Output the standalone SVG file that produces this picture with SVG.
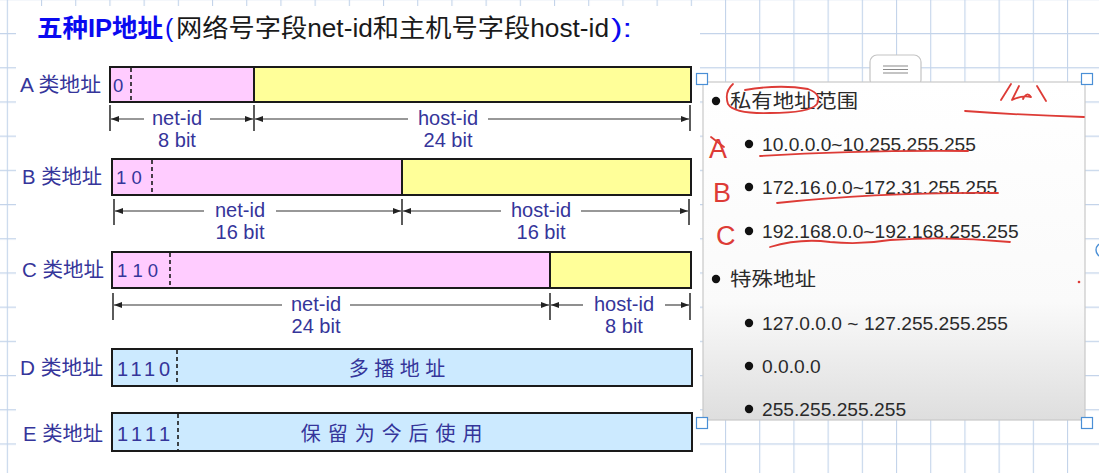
<svg xmlns="http://www.w3.org/2000/svg" width="1099" height="473" viewBox="0 0 1099 473">
<defs>
<pattern id="grid" x="6.8" y="-1.2" width="34.2" height="34.2" patternUnits="userSpaceOnUse">
<path d="M0,0.5 H34.2 M0.5,0 V34.2" stroke="#c3d4ea" stroke-width="1.2" fill="none"/>
</pattern>
<linearGradient id="pg" x1="0" y1="0" x2="0" y2="1">
<stop offset="0" stop-color="#ffffff"/>
<stop offset="0.65" stop-color="#fafafa"/>
<stop offset="1" stop-color="#dedede"/>
</linearGradient>
<marker id="ah" viewBox="0 0 8 6" refX="8" refY="3" markerWidth="8" markerHeight="6" markerUnits="userSpaceOnUse" orient="auto">
<path d="M0,0 L8,3 L0,6 z" fill="#222"/>
</marker>
<style>
.lbl{font-family:"Liberation Sans","Noto Sans CJK SC",sans-serif;font-size:20px;fill:#35359a}
.bits{font-family:"Liberation Sans","Noto Sans CJK SC",sans-serif;font-size:18.5px;fill:#35359a}
.big{font-family:"Liberation Sans","Noto Sans CJK SC",sans-serif;font-size:20px;fill:#35359a}
.dim{font-family:"Liberation Sans","Noto Sans CJK SC",sans-serif;font-size:20px;fill:#35359a;text-anchor:middle}
.box{stroke:#1a1a1a;stroke-width:2;fill:none}
.pink{fill:#ffccff}
.yel{fill:#ffff99}
.blu{fill:#cceaff}
.dash{stroke:#1a1a1a;stroke-width:1.6;stroke-dasharray:4,3}
.tick{stroke:#333;stroke-width:1.6}
.arr{stroke:#333;stroke-width:1.1;fill:none;marker-end:url(#ah)}
.pt{font-family:"Liberation Sans","Noto Sans CJK SC",sans-serif;font-size:19.2px;fill:#2a2a2a}
.red{stroke:#dd3b36;stroke-width:1.8;fill:none;stroke-linecap:round;stroke-linejoin:round}
.redt{font-family:"Liberation Sans",sans-serif;font-size:27px;fill:#dd3b36;font-weight:normal}
.hdl{fill:#ffffff;stroke:#4a8fd6;stroke-width:1.2}
</style>
</defs>
<rect x="0" y="0" width="1099" height="473" fill="#ffffff"/>
<rect x="0" y="0" width="1099" height="473" fill="url(#grid)"/>
<rect x="16" y="6" width="684" height="467" fill="#ffffff"/>

<g id="title">
<text x="37" y="37" font-family="'Liberation Sans','Noto Sans CJK SC',sans-serif" font-size="25" font-weight="bold" fill="#0a0af0" textLength="126" lengthAdjust="spacingAndGlyphs">五种IP地址</text>
<text x="165" y="37" font-family="'Liberation Sans','Noto Sans CJK SC',sans-serif" font-size="25" fill="#0a0af0">(</text>
<text x="176" y="37" font-family="'Liberation Sans','Noto Sans CJK SC',sans-serif" font-size="25" fill="#1a1a1a" textLength="433" lengthAdjust="spacingAndGlyphs">网络号字段net-id和主机号字段host-id</text>
<text x="611" y="37" font-family="'Liberation Sans','Noto Sans CJK SC',sans-serif" font-size="25" fill="#0a0af0" textLength="21" lengthAdjust="spacingAndGlyphs">):</text>
</g>

<g id="rowA">
<text class="lbl" x="20" y="92" textLength="81" lengthAdjust="spacingAndGlyphs">A 类地址</text>
<rect class="pink" x="110" y="67" width="144" height="35"/>
<rect class="yel" x="254" y="67" width="437" height="35"/>
<rect class="box" x="110" y="67" width="581" height="35"/>
<line class="box" x1="254" y1="67" x2="254" y2="102"/>
<line class="dash" x1="131" y1="68" x2="131" y2="101"/>
<text class="bits" x="113" y="92">0</text>
</g>

<g id="rowB">
<text class="lbl" x="22" y="184" textLength="80" lengthAdjust="spacingAndGlyphs">B 类地址</text>
<rect class="pink" x="112" y="159" width="290" height="36"/>
<rect class="yel" x="402" y="159" width="289" height="36"/>
<rect class="box" x="112" y="159" width="579" height="36"/>
<line class="box" x1="402" y1="159" x2="402" y2="195"/>
<line class="dash" x1="152" y1="160" x2="152" y2="194"/>
<text class="bits" x="116" y="184">1 0</text>
</g>

<g id="rowC">
<text class="lbl" x="22" y="277" textLength="82" lengthAdjust="spacingAndGlyphs">C 类地址</text>
<rect class="pink" x="112" y="252" width="438" height="36"/>
<rect class="yel" x="550" y="252" width="141" height="36"/>
<rect class="box" x="112" y="252" width="579" height="36"/>
<line class="box" x1="550" y1="252" x2="550" y2="288"/>
<line class="dash" x1="170" y1="253" x2="170" y2="287"/>
<text class="bits" x="117" y="277">1 1 0</text>
</g>

<g id="rowD">
<text class="lbl" x="20" y="375" textLength="83" lengthAdjust="spacingAndGlyphs">D 类地址</text>
<rect class="blu" x="112" y="349" width="580" height="37"/>
<rect class="box" x="112" y="349" width="580" height="37"/>
<line class="dash" x1="177" y1="350" x2="177" y2="385"/>
<text class="big" x="117" y="375.5" textLength="53" lengthAdjust="spacing">1110</text>
<text class="big" x="397" y="376" text-anchor="middle">多 播 地 址</text>
</g>

<g id="rowE">
<text class="lbl" x="23" y="441" textLength="80" lengthAdjust="spacingAndGlyphs">E 类地址</text>
<rect class="blu" x="112" y="413" width="580" height="38"/>
<rect class="box" x="112" y="413" width="580" height="38"/>
<line class="dash" x1="178" y1="414" x2="178" y2="450"/>
<text class="big" x="117" y="440.5" textLength="53" lengthAdjust="spacing">1111</text>
<text class="big" x="392" y="441" text-anchor="middle" letter-spacing="0.7">保 留 为 今 后 使 用</text>
</g>

<g id="connectors">
<line class="tick" x1="110" y1="105" x2="110" y2="131"/>
<line class="tick" x1="254" y1="105" x2="254" y2="131"/>
<line class="tick" x1="690" y1="105" x2="690" y2="131"/>
<path class="arr" d="M144,119 L111,119"/>
<path class="arr" d="M210,119 L253,119"/>
<path class="arr" d="M408,119 L255,119"/>
<path class="arr" d="M488,119 L689,119"/>
<text class="dim" x="177" y="124.5">net-id</text>
<text class="dim" x="177" y="146.5">8 bit</text>
<text class="dim" x="448" y="124.5">host-id</text>
<text class="dim" x="448" y="146.5">24 bit</text>

<line class="tick" x1="114" y1="199" x2="114" y2="225"/>
<line class="tick" x1="402" y1="199" x2="402" y2="225"/>
<line class="tick" x1="689" y1="199" x2="689" y2="225"/>
<path class="arr" d="M204,211 L115,211"/>
<path class="arr" d="M276,211 L401,211"/>
<path class="arr" d="M501,211 L403,211"/>
<path class="arr" d="M581,211 L688,211"/>
<text class="dim" x="240" y="216.5">net-id</text>
<text class="dim" x="240" y="238.5">16 bit</text>
<text class="dim" x="541" y="216.5">host-id</text>
<text class="dim" x="541" y="238.5">16 bit</text>

<line class="tick" x1="113" y1="293" x2="113" y2="320"/>
<line class="tick" x1="550" y1="293" x2="550" y2="320"/>
<line class="tick" x1="690" y1="293" x2="690" y2="320"/>
<path class="arr" d="M282,305 L114,305"/>
<path class="arr" d="M350,305 L549,305"/>
<path class="arr" d="M583,305 L551,305"/>
<path class="arr" d="M665,305 L689,305"/>
<text class="dim" x="316" y="310.5">net-id</text>
<text class="dim" x="316" y="332.5">24 bit</text>
<text class="dim" x="624" y="310.5">host-id</text>
<text class="dim" x="624" y="332.5">8 bit</text>
</g>

<g id="panel">
<rect x="870" y="55" width="51" height="32" rx="7" fill="#ffffff" stroke="#c4c4c4" stroke-width="1.2"/>
<path d="M883,66 H908 M883,69.5 H908 M883,73 H908" stroke="#8a8a8a" stroke-width="1.2"/>
<rect x="703" y="82" width="382" height="338" fill="url(#pg)" stroke="#c9c9c9" stroke-width="1.2"/>
<circle cx="716" cy="101" r="4.2" fill="#111"/>
<text class="pt" x="730" y="108" font-size="20.5" textLength="128" lengthAdjust="spacingAndGlyphs">私有地址范围</text>
<circle cx="749" cy="144" r="4.2" fill="#111"/>
<text class="pt" x="762" y="151">10.0.0.0~10.255.255.255</text>
<circle cx="749" cy="187" r="4.2" fill="#111"/>
<text class="pt" x="762" y="194">172.16.0.0~172.31.255.255</text>
<circle cx="749" cy="231" r="4.2" fill="#111"/>
<text class="pt" x="762" y="238">192.168.0.0~192.168.255.255</text>
<circle cx="716" cy="279" r="4.2" fill="#111"/>
<text class="pt" x="730" y="286" font-size="20.5" textLength="86" lengthAdjust="spacingAndGlyphs">特殊地址</text>
<circle cx="749" cy="323" r="4.2" fill="#111"/>
<text class="pt" x="762" y="330">127.0.0.0 ~ 127.255.255.255</text>
<circle cx="749" cy="366" r="4.2" fill="#111"/>
<text class="pt" x="762" y="373">0.0.0.0</text>
<circle cx="749" cy="409" r="4.2" fill="#111"/>
<text class="pt" x="762" y="416">255.255.255.255</text>
<rect class="hdl" x="696.5" y="73.5" width="11" height="11"/>
<rect class="hdl" x="1081.5" y="73.5" width="11" height="11"/>
<rect class="hdl" x="696.5" y="417.5" width="11" height="11"/>
<rect class="hdl" x="1081.5" y="417.5" width="11" height="11"/>
<circle cx="1103" cy="250" r="7" fill="#ffffff" stroke="#4a8fd6" stroke-width="1.4"/>
</g>

<g id="annotations">
<path class="red" d="M733,84 Q724,92 728,104 Q734,114 770,113 Q810,113 817,104 Q822,94 808,89 Q780,84 745,90"/>
<path class="red" d="M965,111 Q1020,115 1084,117"/>
<path class="red" d="M1011,84 L1001,100 M1019,86 L1012,100 Q1022,95 1031,97 Q1027,91 1023,99 M1037,86 L1046,101"/>
<text class="redt" x="709" y="158">A</text>
<path class="red" d="M711,137 L724,147"/>
<text class="redt" x="713" y="202">B</text>
<text class="redt" x="716" y="245">C</text>
<path class="red" d="M760,156 Q860,150 968,151"/>
<path class="red" d="M777,203 Q880,192 998,193"/>
<path class="red" d="M770,247 Q800,238 830,242 Q860,245 890,240 Q950,236 1010,242"/>
<circle cx="1079" cy="282" r="1.3" fill="#dd3b36"/>
</g>
</svg>
